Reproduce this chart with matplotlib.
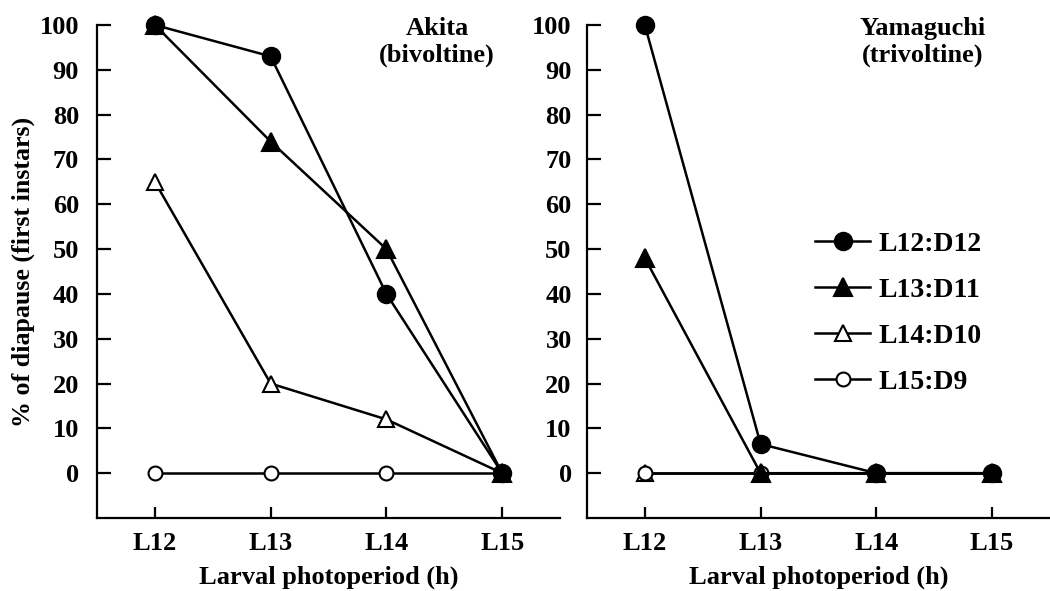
"""Diapause incidence vs larval photoperiod, Akita and Yamaguchi populations."""

import matplotlib

matplotlib.use("Agg")
import matplotlib.pyplot as plt  # noqa: E402

plt.rcParams["font.family"] = ["Liberation Serif", "DejaVu Serif"]
plt.rcParams["font.weight"] = "bold"

photoperiods = [12, 13, 14, 15]
tick_labels = ["L12", "L13", "L14", "L15"]
series_names = ["L12:D12", "L13:D11", "L14:D10", "L15:D9"]

akita = {
    "L12:D12": [100, 93, 40, 0],
    "L13:D11": [100, 74, 50, 0],
    "L14:D10": [65, 20, 12, 0],
    "L15:D9": [0, 0, 0, 0],
}
yamaguchi = {
    "L12:D12": [100, 6.5, 0, 0],
    "L13:D11": [48, 0, 0, 0],
    "L14:D10": [0, 0, 0, 0],
    "L15:D9": [0, 0, 0, 0],
}

styles = {
    "L12:D12": dict(marker="o", ms=12.5, mfc="black", zorder=5),
    "L13:D11": dict(marker="^", ms=12.5, mfc="black", zorder=4),
    "L14:D10": dict(marker="^", ms=11, mfc="white", zorder=2),
    "L15:D9": dict(marker="o", ms=10, mfc="white", zorder=3),
}

FS = 19


def draw_panel(ax, data, title, title_x):
    handles = {}
    for name in series_names:
        (ln,) = ax.plot(photoperiods, data[name], color="black", lw=1.8,
                        mec="black", mew=1.5, label=name, clip_on=False,
                        **styles[name])
        handles[name] = ln
    ax.set_xlim(11.5, 15.5)
    ax.set_ylim(-10, 100)
    ax.set_xticks(photoperiods)
    ax.set_xticklabels(tick_labels)
    ax.set_yticks(range(0, 101, 10))
    ax.tick_params(axis="y", direction="in", length=10, width=1.6, pad=13, labelsize=FS)
    ax.tick_params(axis="x", direction="in", length=8, width=1.6, pad=10, labelsize=FS)
    for s in ("top", "right"):
        ax.spines[s].set_visible(False)
    for s in ("left", "bottom"):
        ax.spines[s].set_linewidth(1.6)
    ax.set_xlabel("Larval photoperiod (h)", fontsize=FS, fontweight="bold", labelpad=8)
    ax.text(title_x, 0.965, title, transform=ax.transAxes, ha="center", va="center",
            fontsize=FS, fontweight="bold", linespacing=1.2)
    return handles


fig = plt.figure(figsize=(10.5, 5.91), dpi=100)
ax1 = fig.add_axes([0.0924, 0.1235, 0.441, 0.8342])
ax2 = fig.add_axes([0.559, 0.1235, 0.441, 0.8342])

h = draw_panel(ax1, akita, "Akita\n(bivoltine)", 0.734)
draw_panel(ax2, yamaguchi, "Yamaguchi\n(trivoltine)", 0.726)
ax2.tick_params(axis="y", pad=11)

ax1.set_ylabel("% of diapause (first instars)", fontsize=18.7, fontweight="bold", labelpad=3)

ax2.legend([h[n] for n in series_names], series_names, loc="upper left",
           bbox_to_anchor=(0.776, 0.609), bbox_transform=fig.transFigure,
           frameon=False, fontsize=20, handlelength=2.0, handletextpad=0.3,
           labelspacing=0.74, borderpad=0, borderaxespad=0)

fig.savefig("out.png", dpi=100)
plt.close(fig)
